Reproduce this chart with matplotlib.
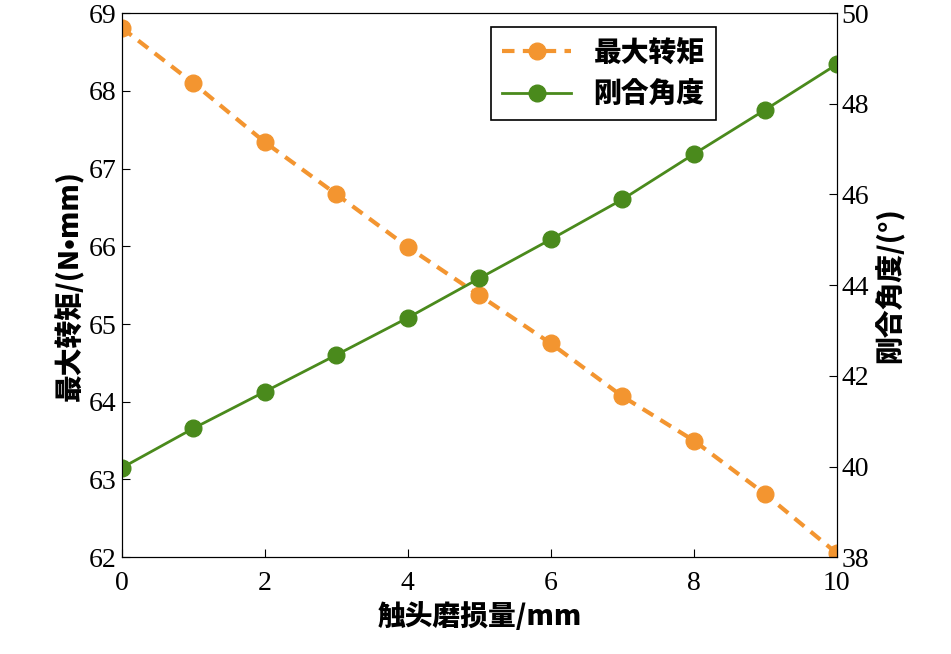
import matplotlib.pyplot as plt
from matplotlib import font_manager as fm

plt.rcParams['font.family'] = 'Liberation Serif'

cjk_files = [f for f in fm.findSystemFonts() if 'NotoSansCJK' in f.replace('-', '') or 'NotoSansCJK' in f]
if cjk_files:
    cjk = fm.FontProperties(fname=sorted(cjk_files)[0], size=20)
else:
    cjk = fm.FontProperties(family='Noto Sans CJK SC', size=20)

# Data
wear = [0, 1, 2, 3, 4, 5, 6, 7, 8, 9, 10]
torque = [68.81, 68.10, 67.34, 66.67, 65.99, 65.37, 64.75, 64.07, 63.50, 62.81, 62.05]
angle = [39.97, 40.84, 41.65, 42.46, 43.28, 44.15, 45.01, 45.89, 46.89, 47.87, 48.87]

fig, ax = plt.subplots(figsize=(9.51, 6.54), dpi=100)
fig.subplots_adjust(left=0.128, right=0.88, top=0.98, bottom=0.148)
ax2 = ax.twinx()

l1, = ax.plot(wear, torque, '--o', color='#f39530', lw=3, ms=12, label='最大转矩', dashes=(3, 2))
l2, = ax2.plot(wear, angle, '-o', color='#4a8a1c', lw=2, ms=12, label='刚合角度')

ax.set_xlim(0, 10)
ax.set_ylim(62, 69)
ax2.set_ylim(38, 50)
ax.set_xticks(range(0, 11, 2))
ax2.set_yticks(range(38, 51, 2))

for a in (ax, ax2):
    a.tick_params(direction='in', labelsize=20, length=6, top=False)
ax.tick_params(axis='x', pad=10)
ax.set_xlabel('触头磨损量/mm', fontproperties=cjk)
ax.set_ylabel('最大转矩/(N•mm)', fontproperties=cjk)
ax2.set_ylabel('刚合角度/(°)', fontproperties=cjk)

leg = ax.legend(handles=[l1, l2], loc='upper right', bbox_to_anchor=(0.85, 1.0),
                prop=cjk, fancybox=False, edgecolor='black', framealpha=1,
                handlelength=2.5)
leg.get_frame().set_linewidth(1.2)

plt.savefig('out.png', dpi=100)
